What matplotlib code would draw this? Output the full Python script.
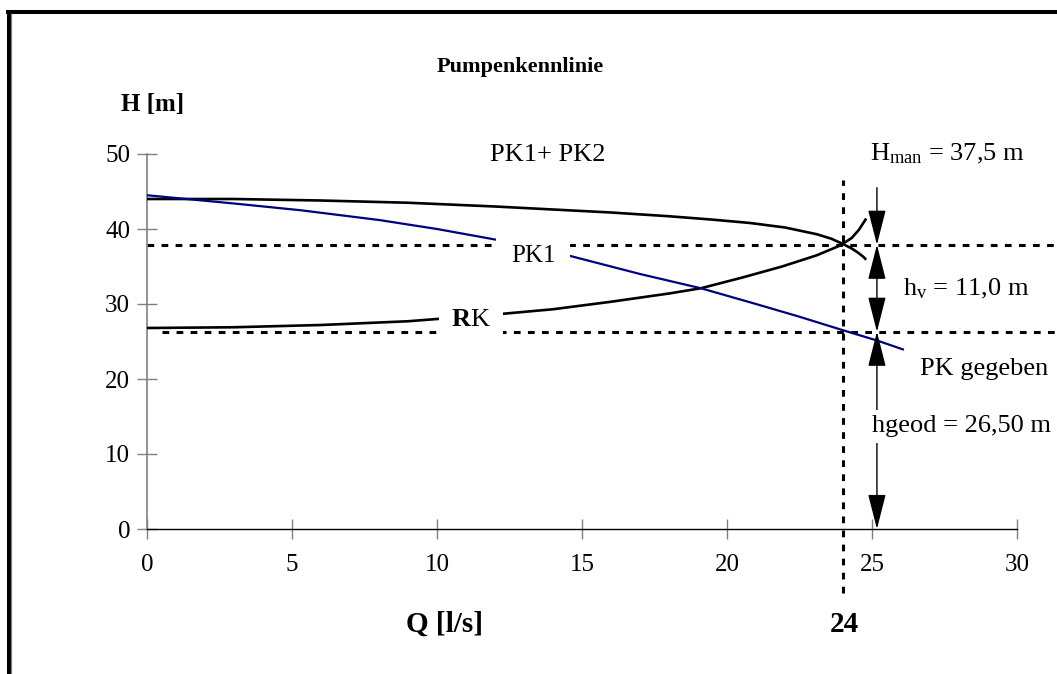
import matplotlib
matplotlib.use("Agg")
import matplotlib.pyplot as plt
from matplotlib.lines import Line2D

# ---------------- data ----------------
Q_pk = [0, 3, 5.3, 8, 10, 12, 14.6, 17, 19.1, 21, 22.5, 24, 25.2, 26.1]
H_pk = [44.5, 43.4, 42.5, 41.2, 40.0, 38.6, 36.4, 34.0, 32.1, 30.0, 28.3, 26.5, 25.1, 23.9]

Q_pk12 = [0, 3, 6, 9, 12, 14, 16, 18, 19.5, 20.8, 22, 23.1, 23.6, 24.0, 24.3, 24.5, 24.7, 24.8]
H_pk12 = [44.0, 44.0, 43.8, 43.5, 43.0, 42.6, 42.2, 41.7, 41.25, 40.8, 40.2, 39.3, 38.7, 38.0, 37.4, 36.9, 36.3, 35.9]

Q_rk = [0, 3, 6, 9, 10, 12, 14, 16, 18, 19.1, 20.5, 21.9, 23.1, 23.9, 24.3, 24.55, 24.8]
H_rk = [26.8, 26.9, 27.2, 27.7, 28.0, 28.6, 29.3, 30.3, 31.4, 32.1, 33.5, 35.0, 36.5, 37.8, 38.8, 39.9, 41.4]

Q_op = 24          # operating point flow
H_man_line = 37.9  # drawn level of H_man
H_geod_line = 26.3 # drawn level of hgeod
x_ticks = [0, 5, 10, 15, 20, 25, 30]
y_ticks = [0, 10, 20, 30, 40, 50]

plt.rcParams['font.family'] = ['Liberation Serif', 'DejaVu Serif']
plt.rcParams['mathtext.fontset'] = 'custom'
plt.rcParams['mathtext.rm'] = 'Liberation Serif'
plt.rcParams['mathtext.it'] = 'Liberation Serif:italic'
plt.rcParams['mathtext.bf'] = 'Liberation Serif:bold'

W, H = 1057, 674
fig = plt.figure(figsize=(W / 100, H / 100), dpi=100)
fig.patch.set_facecolor('white')

ax_l, ax_r, ax_t, ax_b = 147, 1017, 154, 529
ax = fig.add_axes([ax_l / W, (H - ax_b) / H, (ax_r - ax_l) / W, (ax_b - ax_t) / H])
ax.set_xlim(0, 30)
ax.set_ylim(0, 50)
ax.set_xticks(x_ticks)
ax.set_yticks(y_ticks)
ax.spines['top'].set_visible(False)
ax.spines['right'].set_visible(False)
ax.spines['left'].set_color('#808080')
ax.spines['left'].set_linewidth(1.2)
ax.spines['bottom'].set_color('black')
ax.spines['bottom'].set_linewidth(1.0)
ax.tick_params(direction='inout', length=14.4, width=1.0, color='#808080',
               labelsize=18, pad=5)
ax.tick_params(axis='x', pad=11)

# curves
ax.plot(Q_pk12, H_pk12, color='black', lw=1.9, zorder=3, solid_capstyle='butt')
ax.plot(Q_rk, H_rk, color='black', lw=1.9, zorder=3, solid_capstyle='butt')
ax.plot(Q_pk, H_pk, color='#000080', lw=1.6, zorder=3, solid_capstyle='butt')

# dashed helper lines
dash = (0, (2.2, 2.4))
ax.plot([0, 31.4], [H_man_line, H_man_line], color='black', lw=2.2, ls=dash,
        clip_on=False, zorder=2)
ax.plot([0.5, 31.4], [H_geod_line, H_geod_line], color='black', lw=2.2, ls=dash,
        clip_on=False, zorder=2)
ax.plot([Q_op, Q_op], [-8.5, 46.5], color='black', lw=2.2, ls=dash,
        clip_on=False, zorder=2)

# dimension arrows
xa = 25.17
ap = dict(color='black', lw=1.0, shrinkA=0, shrinkB=0, mutation_scale=20)
ax.annotate('', xy=(xa, H_man_line), xytext=(xa, 45.5),
            arrowprops=dict(arrowstyle='-|>,head_length=1.1,head_width=0.28', **ap),
            annotation_clip=False, zorder=4)
ax.annotate('', xy=(xa, H_geod_line), xytext=(xa, H_man_line),
            arrowprops=dict(arrowstyle='<|-|>,head_length=1.1,head_width=0.28', **ap),
            annotation_clip=False, zorder=4)
ax.annotate('', xy=(xa, 0), xytext=(xa, H_geod_line),
            arrowprops=dict(arrowstyle='<|-|>,head_length=1.1,head_width=0.28', **ap),
            annotation_clip=False, zorder=4)

# annotations
fs = 19
ax.text(13.83, 49.9, 'PK1+ PK2', fontsize=fs, ha='center', va='center', zorder=6)
ax.text(24.93, 49.2, r'H$_{\mathrm{man}}$ = 37,5 m', fontsize=fs, ha='left',
        va='baseline', zorder=6, clip_on=False)
ax.text(26.07, 31.2, r'h$_{\mathrm{v}}$ = 11,0 m', fontsize=fs, ha='left',
        va='baseline', zorder=6, clip_on=False)
ax.text(26.66, 20.5, 'PK gegeben', fontsize=fs, ha='left', va='baseline', zorder=6,
        clip_on=False)
ax.text(25.0, 12.9, 'hgeod = 26,50 m', fontsize=fs, ha='left', va='baseline',
        zorder=6, clip_on=False,
        bbox=dict(boxstyle='square,pad=0.2', fc='white', ec='none'))
ax.text(13.31, 36.4, 'PK1', fontsize=18, ha='center', va='center', zorder=6,
        bbox=dict(boxstyle='square,pad=0.6', fc='white', ec='none'))
ax.text(11.17, 27.9, r'$\mathbf{R}$K', fontsize=fs, ha='center', va='center', zorder=6,
        bbox=dict(boxstyle='square,pad=0.45', fc='white', ec='none'))

# titles / axis labels in figure pixel positions
def fx(px):
    return px / W

def fy(py):
    return (H - py) / H

fig.text(fx(520), fy(67), 'Pumpenkennlinie', fontsize=16, fontweight='bold',
         ha='center', va='center')
fig.text(fx(121), fy(104), 'H [m]', fontsize=18, fontweight='bold',
         ha='left', va='center')
fig.text(fx(445), fy(624), 'Q [l/s]', fontsize=21, fontweight='bold',
         ha='center', va='center')
fig.text(fx(844), fy(624), '24', fontsize=21, fontweight='bold',
         ha='center', va='center')

# outer frame (top and left)
fig.add_artist(Line2D([fx(6), fx(1057)], [fy(11.5), fy(11.5)], color='black', lw=2.9,
                      transform=fig.transFigure, solid_capstyle='butt'))
fig.add_artist(Line2D([fx(8.5), fx(8.5)], [fy(10), fy(674)], color='black', lw=2.9,
                      transform=fig.transFigure, solid_capstyle='butt'))
fig.add_artist(Line2D([fx(11.3), fx(11.3)], [fy(13), fy(674)], color='#808080', lw=0.9,
                      transform=fig.transFigure, solid_capstyle='butt'))

fig.savefig('out.png', dpi=100)
